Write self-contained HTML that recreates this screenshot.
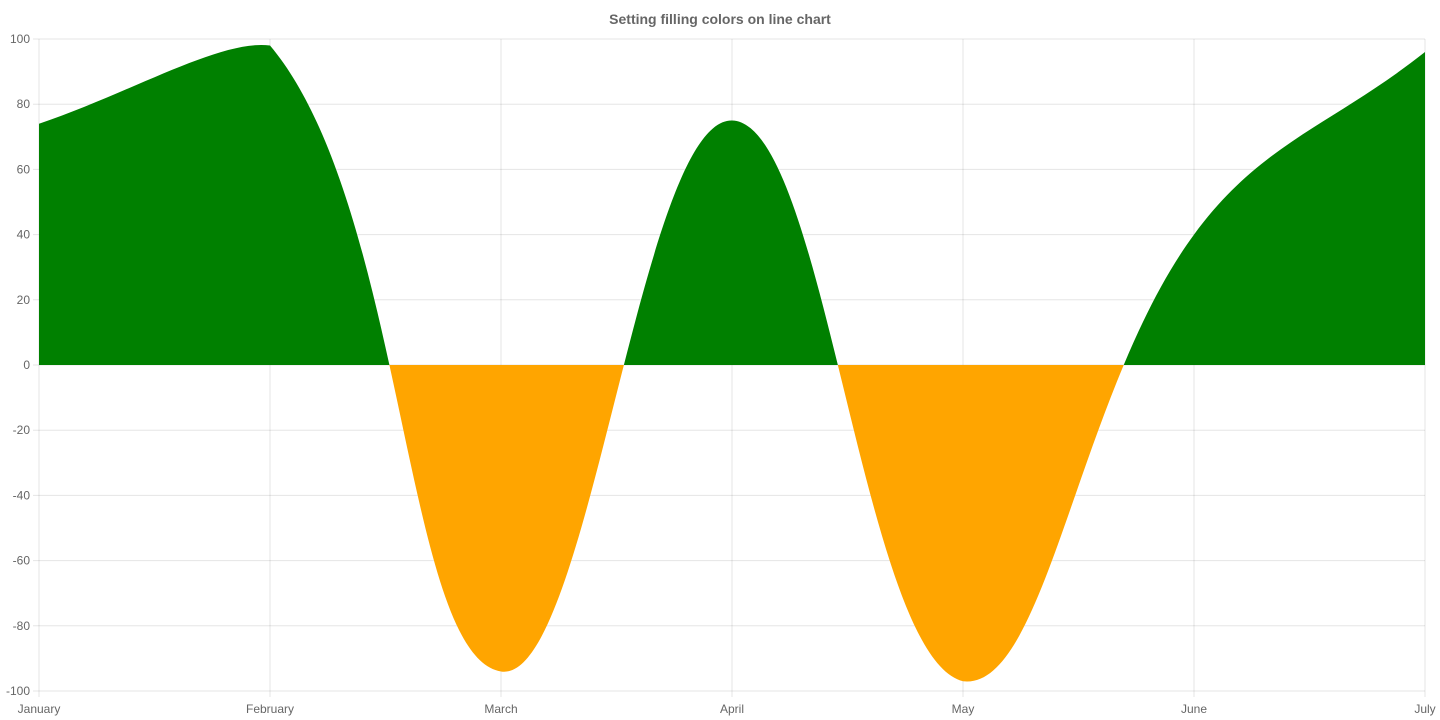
<!DOCTYPE html>
<html><head><meta charset="utf-8"><style>
html,body{margin:0;padding:0;background:#fff;}
svg{display:block;font-family:"Liberation Sans",sans-serif;}
</style></head><body>
<svg id="chart" width="1440" height="720" xmlns="http://www.w3.org/2000/svg">
<text x="720" y="24" text-anchor="middle" font-size="14" font-weight="bold" fill="#666">Setting filling colors on line chart</text>
</svg>
<script>
const categories = ["January","February","March","April","May","June","July"];
const seriesValues = [74, 98, -94, 75, -97, 40, 96];
const yTicks = [100, 80, 60, 40, 20, 0, -20, -40, -60, -80, -100];

const NS = "http://www.w3.org/2000/svg";
const svg = document.getElementById('chart');
const L = 39, R = 1425, T = 39, B = 691, yMin = -100, yMax = 100;
const xScale = i => L + (R - L) * i / (categories.length - 1);
const yScale = v => B - (v - yMin) / (yMax - yMin) * (B - T);
function mk(tag, attrs) { const e = document.createElementNS(NS, tag); for (const k in attrs) e.setAttribute(k, attrs[k]); svg.appendChild(e); return e; }

// grid + y ticks
yTicks.forEach(t => {
  const y = yScale(t);
  const g = mk('line', {x1: L - 6, x2: R, y1: y, y2: y, stroke: 'rgba(0,0,0,0.1)', 'stroke-width': 1});
  
  
  const tx = mk('text', {x: 30, y: y + 4, 'text-anchor': 'end', 'font-size': 12, fill: '#666'});
  tx.textContent = t;
  
  
});
categories.forEach((c, i) => {
  const x = xScale(i);
  const g = mk('line', {x1: x, x2: x, y1: T, y2: B + 6, stroke: 'rgba(0,0,0,0.1)', 'stroke-width': 1});
  
  
  const tx = mk('text', {x: x, y: 713, 'text-anchor': 'middle', 'font-size': 12, fill: '#666'});
  tx.textContent = c;
  
  
});

// spline (Chart.js style, tension 0.4)
const pts = seriesValues.map((v, i) => ({x: xScale(i), y: yScale(v)}));
const t = 0.4;
pts.forEach((p, i) => {
  const prev = pts[i - 1] || p, next = pts[i + 1] || p;
  const d01 = Math.hypot(p.x - prev.x, p.y - prev.y), d12 = Math.hypot(next.x - p.x, next.y - p.y);
  let s01 = d01 / (d01 + d12), s12 = d12 / (d01 + d12);
  if (isNaN(s01)) s01 = 0; if (isNaN(s12)) s12 = 0;
  const fa = t * s01, fb = t * s12;
  p.cpPx = p.x - fa * (next.x - prev.x); p.cpPy = p.y - fa * (next.y - prev.y);
  p.cpNx = p.x + fb * (next.x - prev.x); p.cpNy = p.y + fb * (next.y - prev.y);
  const cl = (v, a, b) => Math.max(a, Math.min(b, v));
  p.cpPx = cl(p.cpPx, L, R); p.cpNx = cl(p.cpNx, L, R);
  p.cpPy = cl(p.cpPy, T, B); p.cpNy = cl(p.cpNy, T, B);
});
let d = `M${pts[0].x},${pts[0].y}`;
for (let i = 1; i < pts.length; i++) {
  const a = pts[i - 1], b = pts[i];
  d += ` C${a.cpNx},${a.cpNy} ${b.cpPx},${b.cpPy} ${b.x},${b.y}`;
}
const y0 = yScale(0);
d += ` L${pts[pts.length - 1].x},${y0} L${pts[0].x},${y0} Z`;

const defs = mk('defs', {});
const cA = document.createElementNS(NS, 'clipPath'); cA.setAttribute('id', 'above');
const rA = document.createElementNS(NS, 'rect'); rA.setAttribute('x', L); rA.setAttribute('y', T); rA.setAttribute('width', R - L); rA.setAttribute('height', y0 - T);
cA.appendChild(rA); defs.appendChild(cA);
const cB = document.createElementNS(NS, 'clipPath'); cB.setAttribute('id', 'below');
const rB = document.createElementNS(NS, 'rect'); rB.setAttribute('x', L); rB.setAttribute('y', y0); rB.setAttribute('width', R - L); rB.setAttribute('height', B - y0);
cB.appendChild(rB); defs.appendChild(cB);

const pa = mk('path', {d: d, fill: 'green', 'clip-path': 'url(#above)'});


const pb = mk('path', {d: d, fill: 'orange', 'clip-path': 'url(#below)'});


</script>
</body></html>
